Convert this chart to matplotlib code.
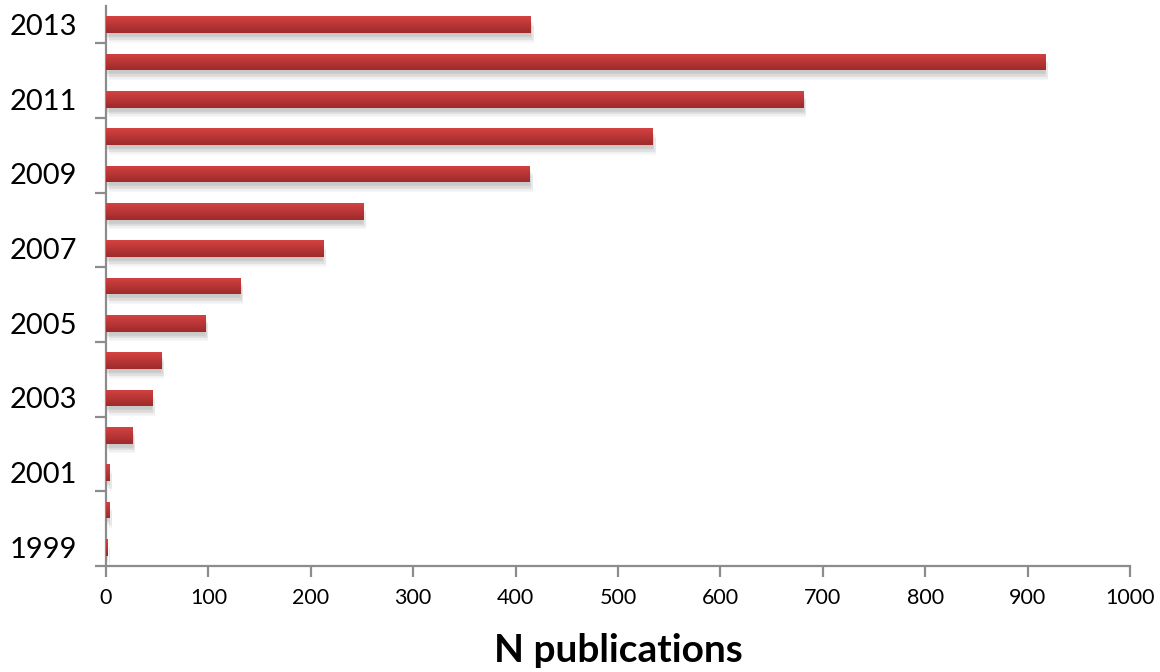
import numpy as np
import matplotlib
matplotlib.use("Agg")
import matplotlib.pyplot as plt
import matplotlib.patheffects as pe

# Publications per year
years = [1999, 2000, 2001, 2002, 2003, 2004, 2005, 2006, 2007, 2008, 2009, 2010, 2011, 2012, 2013]
counts = [1, 3, 3, 26, 45, 54, 97, 131, 212, 251, 414, 534, 681, 917, 415]
year_labels = ["1999", "2001", "2003", "2005", "2007", "2009", "2011", "2013"]
x_ticks = [0, 100, 200, 300, 400, 500, 600, 700, 800, 900, 1000]

plt.rcParams["font.family"] = ["Lato", "DejaVu Sans"]

fig = plt.figure(figsize=(11.6, 6.72), dpi=100)
ax = fig.add_axes([106 / 1160, 106 / 672, (1130 - 106) / 1160, (566 - 6) / 672])

bar_h = 0.44
# soft drop shadow built from a few stacked translucent offsets
shadow = [pe.SimplePatchShadow(offset=(dx, -dy), shadow_rgbFace="#7a7a7a", alpha=0.06)
          for dx, dy in [(0, 2), (1, 3), (1, 4), (2, 5), (2, 6), (1, 5), (0, 3), (2, 7)]]
bars = ax.barh(years, counts, height=bar_h, color="#c03838", edgecolor="none", zorder=2)
for b in bars:
    b.set_path_effects(shadow + [pe.Normal()])

# vertical red gradient inside each bar
top = np.array([212, 66, 66]) / 255
bot = np.array([158, 42, 42]) / 255
t = np.linspace(0, 1, 64)[:, None]
grad = (top * (1 - t) + bot * t)[:, None, :]
grad = np.repeat(grad, 2, axis=1)
for b in bars:
    x0, y0 = b.get_x(), b.get_y()
    w, h = b.get_width(), b.get_height()
    im = ax.imshow(grad, extent=[x0, x0 + w, y0, y0 + h], origin="upper",
                   aspect="auto", zorder=3, interpolation="bilinear")
    im.set_clip_path(b)

ax.set_xlim(0, 1000)
ax.set_ylim(1998.5, 2013.5)

axis_col = "#8c8c8c"
for s in ["top", "right"]:
    ax.spines[s].set_visible(False)
for s in ["left", "bottom"]:
    ax.spines[s].set_color(axis_col)
    ax.spines[s].set_linewidth(1.6)

ax.set_xticks(x_ticks)
ax.set_xticklabels([str(v) for v in x_ticks], fontsize=15.5)
ax.tick_params(axis="x", direction="out", length=8, width=1.6, color=axis_col, pad=8)

ax.set_yticks([int(y) for y in year_labels])
ax.set_yticklabels(year_labels, fontsize=21)
ax.tick_params(axis="y", which="major", length=0, pad=21)
ax.set_yticks(np.arange(1998.5, 2013.0, 2.0), minor=True)
ax.tick_params(axis="y", which="minor", direction="out", length=8, width=1.6, color=axis_col)

ax.set_xlabel("N publications", fontsize=28, fontweight="bold", labelpad=18)

fig.savefig("out.png", dpi=100, facecolor="white")
